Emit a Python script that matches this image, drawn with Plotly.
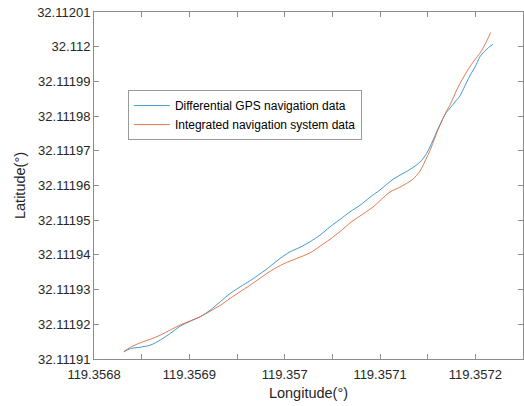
import plotly.graph_objects as go

# Differential GPS navigation data
gps_lon = [119.3568313, 119.3568383, 119.3568488, 119.3568592, 119.3568697, 119.3568802,
           119.3568906, 119.3569011, 119.3569115, 119.3569220, 119.3569325, 119.3569429,
           119.3569534, 119.3569639, 119.3569796, 119.3569953, 119.3570057, 119.3570162,
           119.3570267, 119.3570371, 119.3570476, 119.3570580, 119.3570685, 119.3570790,
           119.3570894, 119.3570999, 119.3571138, 119.3571313, 119.3571418, 119.3571488,
           119.3571557, 119.3571609, 119.3571697, 119.3571732, 119.3571802, 119.3571836,
           119.3571889, 119.3571941, 119.3572011, 119.3572045, 119.3572098, 119.3572150,
           119.3572185]
gps_lat = [32.1119121, 32.1119130, 32.1119134, 32.1119140, 32.1119155, 32.1119174,
           32.1119195, 32.1119209, 32.1119222, 32.1119241, 32.1119265, 32.1119289,
           32.1119308, 32.1119326, 32.1119356, 32.1119390, 32.1119409, 32.1119422,
           32.1119438, 32.1119457, 32.1119481, 32.1119502, 32.1119524, 32.1119543,
           32.1119566, 32.1119587, 32.1119618, 32.1119646, 32.1119667, 32.1119692,
           32.1119731, 32.1119764, 32.1119811, 32.1119822, 32.1119846, 32.1119857,
           32.1119886, 32.1119915, 32.1119949, 32.1119970, 32.1119987, 32.1120000,
           32.1120007]

# Integrated navigation system data
ins_lon = [119.3568313, 119.3568383, 119.3568488, 119.3568592, 119.3568697, 119.3568802,
           119.3568906, 119.3569011, 119.3569115, 119.3569220, 119.3569325, 119.3569429,
           119.3569534, 119.3569639, 119.3569743, 119.3569866, 119.3569987, 119.3570127,
           119.3570267, 119.3570371, 119.3570476, 119.3570580, 119.3570685, 119.3570790,
           119.3570926, 119.3571104, 119.3571208, 119.3571344, 119.3571418, 119.3571488,
           119.3571522, 119.3571606, 119.3571697, 119.3571732, 119.3571818, 119.3571906,
           119.3571975, 119.3572063, 119.3572108, 119.3572161]
ins_lat = [32.1119121, 32.1119134, 32.1119147, 32.1119157, 32.1119169, 32.1119184,
           32.1119198, 32.1119210, 32.1119222, 32.1119238, 32.1119255, 32.1119275,
           32.1119294, 32.1119313, 32.1119333, 32.1119356, 32.1119374, 32.1119390,
           32.1119406, 32.1119425, 32.1119445, 32.1119467, 32.1119492, 32.1119512,
           32.1119538, 32.1119581, 32.1119595, 32.1119618, 32.1119641, 32.1119679,
           32.1119699, 32.1119759, 32.1119814, 32.1119831, 32.1119883, 32.1119926,
           32.1119955, 32.1119987, 32.1120010, 32.1120041]

x_tickvals = [119.3568, 119.35685, 119.3569, 119.35695, 119.3570, 119.35705,
              119.3571, 119.35715, 119.3572]
x_ticktext = ["119.3568", "", "119.3569", "", "119.357", "", "119.3571", "", "119.3572"]
y_tickvals = [32.11191, 32.11192, 32.11193, 32.11194, 32.11195, 32.11196,
              32.11197, 32.11198, 32.11199, 32.112, 32.11201]
y_ticktext = ["32.11191", "32.11192", "32.11193", "32.11194", "32.11195", "32.11196",
              "32.11197", "32.11198", "32.11199", "32.112", "32.11201"]

FONT = "Liberation Sans, Arial, sans-serif"
AXC = "#8c8c8c"
TXT = "#262626"

fig = go.Figure()
fig.add_trace(go.Scatter(x=gps_lon, y=gps_lat, mode="lines",
                         line=dict(color="#2b8ccc", width=0.9, shape="spline", smoothing=0.8),
                         name="Differential GPS navigation data"))
fig.add_trace(go.Scatter(x=ins_lon, y=ins_lat, mode="lines",
                         line=dict(color="#e06a3a", width=0.9, shape="spline", smoothing=0.8),
                         name="Integrated navigation system data"))

fig.update_layout(
    width=524, height=406,
    margin=dict(l=94, r=1, t=12, b=47),
    paper_bgcolor="white", plot_bgcolor="white",
    font=dict(family=FONT, color=TXT, size=13),
    showlegend=True,
    legend=dict(x=0.079, y=0.775, xanchor="left", yanchor="top",
                bgcolor="white", bordercolor="#9a9a9a", borderwidth=1,
                font=dict(size=12, color="black", family=FONT),
                tracegroupgap=0, itemwidth=36),
    xaxis=dict(range=[119.3568, 119.35725], tickvals=x_tickvals, ticktext=x_ticktext,
               showgrid=False, zeroline=False, showline=True, linecolor=AXC, linewidth=1,
               mirror="ticks", ticks="inside", ticklen=5, tickcolor=AXC,
               tickfont=dict(size=13, color=TXT), ticklabelstandoff=3,
               title=dict(text="Longitude(°)", font=dict(size=14.5, color=TXT), standoff=7)),
    yaxis=dict(range=[32.11191, 32.11201], tickvals=y_tickvals, ticktext=y_ticktext,
               showgrid=False, zeroline=False, showline=True, linecolor=AXC, linewidth=1,
               mirror="ticks", ticks="inside", ticklen=5, tickcolor=AXC,
               tickfont=dict(size=13, color=TXT),
               title=dict(text="Latitude(°)", font=dict(size=14.5, color=TXT), standoff=8)),
)

fig.write_html("out.html")
